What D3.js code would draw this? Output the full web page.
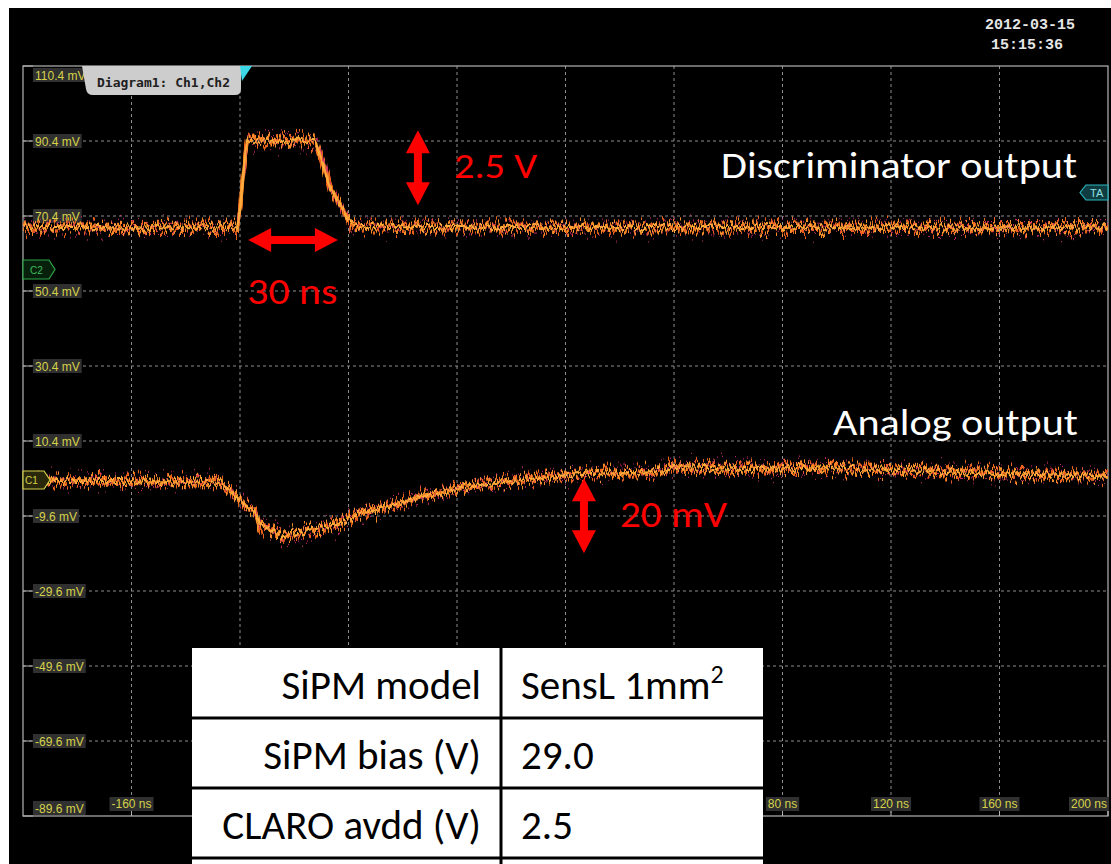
<!DOCTYPE html>
<html>
<head>
<meta charset="utf-8">
<script src="https://cdn.jsdelivr.net/npm/d3@7"></script>
<style>
  body { margin: 0; background: #fff; }
  svg { display: block; }
</style>
</head>
<body>
<svg width="1111" height="864"></svg>
<script>
// scope settings
let timeTicks = [-200, -160, -120, -80, -40, 0, 40, 80, 120, 160, 200];
// only these time labels are visible, the rest sit behind the table
let timeLabels = [-160, 80, 120, 160, 200];
let voltTicks = [110.4, 90.4, 70.4, 50.4, 30.4, 10.4, -9.6, -29.6, -49.6, -69.6, -89.6];

// Ch2 - discriminator output (ns, mV)
let discT = [-200, -180, -160, -140, -121, -120, -119, -118, -117.3, -115, -110, -105, -100, -95, -92, -90, -88, -86.8, -84, -82, -80, -78.5, -76, -60, -40, 0, 40, 80, 120, 160, 200];
let discV = [67.4, 67.5, 67.3, 67.4, 67.4, 72, 80, 87, 90.2, 90.6, 90.8, 90.7, 90.8, 90.6, 90.3, 86, 81, 78, 74.5, 72, 69.5, 68.2, 67.5, 67.4, 67.5, 67.4, 67.5, 67.4, 67.4, 67.3, 67.3];

// Ch1 - analog output (ns, mV)
let anaT = [-200, -170, -150, -134.7, -127.4, -123.7, -118.2, -114.5, -112.6, -108.9, -104.1, -97.9, -90.5, -83.1, -75.8, -68.4, -61, -53.6, -46.3, -38.9, -31.5, -16.8, 0, 12.7, 27.5, 37, 39, 68, 86.4, 123.3, 160.2, 200];
let anaV = [-0.3, -0.2, -0.5, -0.4, -0.8, -2.7, -6.7, -8.5, -12.0, -13.3, -14.7, -14.1, -12.8, -11.5, -8.8, -7.5, -6.1, -4.5, -3.5, -2.1, -1.3, 0.0, 1.3, 2.0, 2.2, 2.5, 3.5, 2.9, 3.2, 2.7, 1.6, 0.9];

// settings table
let tableNames = ["SiPM model", "SiPM bias (V)", "CLARO avdd (V)", ""];
let tableValues = ["SensL 1mm", "29.0", "2.5", ""];

var svg = d3.select("svg");

var x = d3.scaleLinear().domain([-200, 200]).range([23, 1108]);
var y = d3.scaleLinear().domain([-89.6, 110.4]).range([816, 66]);

// screen background
svg.append("rect").attr("width", 1111).attr("height", 864).attr("fill", "#fff");
svg.append("rect").attr("x", 9).attr("y", 8).attr("width", 1102).attr("height", 856).attr("fill", "#000");

// noise filters for the traces
var defs = svg.append("defs");
function noiseFilter(id, freq, seed, scale){
    var f = defs.append("filter").attr("id", id)
        .attr("filterUnits", "userSpaceOnUse")
        .attr("x", 0).attr("y", 0).attr("width", 1111).attr("height", 864);
    f.append("feTurbulence").attr("type", "fractalNoise")
        .attr("baseFrequency", freq).attr("numOctaves", 2).attr("seed", seed).attr("result", "turb");
    f.append("feColorMatrix").attr("in", "turb").attr("type", "matrix")
        .attr("values", "0 0 0 0 0.5  0 1 0 0 0  0 0 0 0 0  0 0 0 0 1").attr("result", "map");
    f.append("feDisplacementMap").attr("in", "SourceGraphic").attr("in2", "map")
        .attr("scale", scale).attr("xChannelSelector", "R").attr("yChannelSelector", "G");
}
noiseFilter("n1", "0.45 0.01", 2, 34);
noiseFilter("n2", "0.6 0.01", 9, 46);
noiseFilter("n3", "0.35 0.01", 17, 16);
noiseFilter("n4", "0.5 0.01", 5, 30);

// grid
var grid = svg.append("g").attr("class", "grid");
grid.selectAll(".vg")
    .data(timeTicks.slice(1, -1))
    .enter().append("line")
    .attr("x1", d => x(d)).attr("x2", d => x(d))
    .attr("y1", y.range()[1]).attr("y2", y.range()[0])
    .attr("stroke", "#8c8c8c").attr("stroke-dasharray", "3,3");
grid.selectAll(".hg")
    .data(voltTicks.slice(1, -1))
    .enter().append("line")
    .attr("x1", x.range()[0]).attr("x2", x.range()[1])
    .attr("y1", d => y(d)).attr("y2", d => y(d))
    .attr("stroke", "#8c8c8c").attr("stroke-dasharray", "3,3");

// frame
svg.append("rect")
    .attr("x", x.range()[0]).attr("y", y.range()[1])
    .attr("width", x.range()[1] - x.range()[0])
    .attr("height", y.range()[0] - y.range()[1])
    .attr("fill", "none").attr("stroke", "#b4b4b4").attr("stroke-width", 1.2);

// y tick labels
var yl = svg.append("g").attr("class", "ylabels")
    .attr("font-family", "'Liberation Sans', Arial, sans-serif").attr("font-size", 12);
voltTicks.forEach(function(v){
    var cy = Math.min(Math.max(y(v), y.range()[1] + 9), y.range()[0] - 8);
    yl.append("line").attr("x1", 23).attr("x2", 33).attr("y1", y(v)).attr("y2", y(v))
        .attr("stroke", "#b4b4b4");
    var box = yl.append("rect").attr("fill", "#303030");
    var t = yl.append("text").attr("x", 35).attr("y", cy + 4.5)
        .attr("fill", "#d6d24a").text(v.toFixed(1) + " mV");
    var w = t.node().getComputedTextLength();
    box.attr("x", 33).attr("y", cy - 7).attr("width", w + 4).attr("height", 14);
});

// x ticks and labels
var xl = svg.append("g").attr("class", "xlabels")
    .attr("font-family", "'Liberation Sans', Arial, sans-serif").attr("font-size", 12);
timeTicks.slice(1).forEach(function(t){
    xl.append("line").attr("x1", x(t)).attr("x2", x(t)).attr("y1", 811).attr("y2", 816)
        .attr("stroke", "#b4b4b4");
});
timeLabels.forEach(function(t){
    var box = xl.append("rect").attr("fill", "#303030");
    var lab = xl.append("text").attr("y", 808).attr("fill", "#d6d24a").text(t + " ns");
    var w = lab.node().getComputedTextLength();
    var left = Math.min(x(t) - w / 2, x.range()[1] - w - 1);
    lab.attr("x", left);
    box.attr("x", left - 2).attr("y", 797).attr("width", w + 4).attr("height", 14);
});

// traces
var line = d3.line().x(d => x(d[0])).y(d => y(d[1]));
var disc = d3.zip(discT, discV);
var ana = d3.zip(anaT, anaV);

function drawTrace(pts, cls){
    var g = svg.append("g").attr("class", cls).attr("fill", "none");
    g.append("path").attr("d", line(pts))
        .attr("stroke", "#ea621a").attr("stroke-width", 3.5).attr("filter", "url(#n1)");
    g.append("path").attr("d", line(pts))
        .attr("stroke", "#f68c2a").attr("stroke-width", 3.5).attr("filter", "url(#n4)");
    g.append("path").attr("d", line(pts))
        .attr("stroke", "#d83070").attr("stroke-width", 1.2).attr("opacity", 0.85).attr("filter", "url(#n2)");
    g.append("path").attr("d", line(pts))
        .attr("stroke", "#ffac3c").attr("stroke-width", 2.2).attr("filter", "url(#n3)");
}
drawTrace(disc, "ch2");
drawTrace(ana, "ch1");

// channel markers
svg.append("path").attr("d", "M23,260 L49,260 L55,269.5 L49,279 L23,279 Z")
    .attr("fill", "#06200c").attr("stroke", "#2fa84a").attr("stroke-width", 1.2);
svg.append("text").attr("x", 30).attr("y", 274).attr("fill", "#3cbc5c")
    .attr("font-family", "'Liberation Sans', Arial, sans-serif").attr("font-size", 10).text("C2");
svg.append("path").attr("d", "M23,471 L44,471 L50,480 L44,489 L23,489 Z")
    .attr("fill", "#2a280a").attr("stroke", "#d6d24a").attr("stroke-width", 1.2);
svg.append("text").attr("x", 25).attr("y", 484).attr("fill", "#d6d24a")
    .attr("font-family", "'Liberation Sans', Arial, sans-serif").attr("font-size", 10).text("C1");
svg.append("path").attr("d", "M1080,192.5 L1086,185 L1108,185 L1108,200 L1086,200 Z")
    .attr("fill", "#0e3c40").attr("stroke", "#2ab8c0").attr("stroke-width", 1.2);
svg.append("text").attr("x", 1090).attr("y", 197).attr("fill", "#8ee0e6")
    .attr("font-family", "'Liberation Sans', Arial, sans-serif").attr("font-size", 11).text("TA");

// diagram tab and trigger marker
svg.append("path")
    .attr("d", "M82,66 L241,66 L241,89 Q241,95 235,95 L93,95 Q87,95 86,89 Z")
    .attr("fill", "#cdcdcd");
svg.append("text").attr("x", 97).attr("y", 87)
    .attr("font-family", "'DejaVu Sans Mono', monospace").attr("font-weight", "bold")
    .attr("font-size", 12).attr("fill", "#202020")
    .attr("textLength", 133).attr("lengthAdjust", "spacingAndGlyphs")
    .text("Diagram1: Ch1,Ch2");
svg.append("path").attr("d", "M240,66 L252,66 L242,81 Z").attr("fill", "#3cd8e8");

// time stamp
var ts = svg.append("g").attr("font-family", "'Liberation Mono', 'Courier New', monospace")
    .attr("font-weight", "bold").attr("font-size", 15).attr("fill", "#e6e6e6")
    .attr("text-anchor", "end");
ts.append("text").attr("x", 1075).attr("y", 29).text("2012-03-15");
ts.append("text").attr("x", 1063).attr("y", 49).text("15:15:36");

// red annotations
function dblArrow(x1, y1, x2, y2){
    var len = Math.hypot(x2 - x1, y2 - y1), hl = 23, hw = 12, sw = 4;
    var ang = Math.atan2(y2 - y1, x2 - x1) * 180 / Math.PI;
    var d = "M0,0 L" + hl + "," + (-hw) + " L" + hl + "," + (-sw) + " L" + (len - hl) + "," + (-sw) +
            " L" + (len - hl) + "," + (-hw) + " L" + len + ",0 L" + (len - hl) + "," + hw +
            " L" + (len - hl) + "," + sw + " L" + hl + "," + sw + " L" + hl + "," + hw + " Z";
    svg.append("path").attr("d", d).attr("fill", "#ff0000")
        .attr("transform", "translate(" + x1 + "," + y1 + ") rotate(" + ang + ")");
}
dblArrow(x(-117), y(64), x(-83.9), y(64));
dblArrow(x(-54.4), y(93.3), x(-54.4), y(73.3));
dblArrow(x(6.8), y(0.5), x(6.8), y(-19.5));

var notes = svg.append("g").attr("font-family", "Carlito, Calibri, Lato, sans-serif");
notes.append("text").attr("x", x(-117.3)).attr("y", y(46.9)).attr("font-size", 37)
    .attr("fill", "#ff0000").attr("textLength", 90).attr("lengthAdjust", "spacingAndGlyphs").text("30 ns");
notes.append("text").attr("x", x(-41.1)).attr("y", y(80.5)).attr("font-size", 35)
    .attr("fill", "#ff0000").attr("textLength", 83).attr("lengthAdjust", "spacingAndGlyphs").text("2.5 V");
notes.append("text").attr("x", x(20.1)).attr("y", y(-12.5)).attr("font-size", 37)
    .attr("fill", "#ff0000").attr("textLength", 107).attr("lengthAdjust", "spacingAndGlyphs").text("20 mV");
notes.append("text").attr("x", 721).attr("y", 178).attr("font-size", 36)
    .attr("fill", "#ffffff").attr("textLength", 356).attr("lengthAdjust", "spacingAndGlyphs").text("Discriminator output");
notes.append("text").attr("x", 833).attr("y", 435).attr("font-size", 36)
    .attr("fill", "#ffffff").attr("textLength", 245).attr("lengthAdjust", "spacingAndGlyphs").text("Analog output");

// settings table
var colX = [192, 501, 763], rowH = 70, tableTop = 648;
var tbl = svg.append("g").attr("class", "table")
    .attr("font-family", "Carlito, Calibri, Lato, sans-serif").attr("font-size", 41).attr("fill", "#000");
tbl.append("rect").attr("x", colX[0]).attr("y", tableTop).attr("width", colX[2] - colX[0])
    .attr("height", rowH * tableNames.length).attr("fill", "#fff");
tableNames.forEach(function(name, i){
    var ry = tableTop + i * rowH;
    if (i > 0) tbl.append("line").attr("x1", colX[0]).attr("x2", colX[2]).attr("y1", ry).attr("y2", ry)
        .attr("stroke", "#000").attr("stroke-width", 3);
    tbl.append("text").attr("x", 481).attr("y", ry + 51).attr("text-anchor", "end").text(name);
    var v = tbl.append("text").attr("x", 521).attr("y", ry + 51).text(tableValues[i]);
    if (i === 0) v.append("tspan").attr("dy", -16).attr("font-size", 26).text("2");
});
tbl.append("line").attr("x1", colX[1]).attr("x2", colX[1]).attr("y1", tableTop).attr("y2", 864)
    .attr("stroke", "#000").attr("stroke-width", 3);
</script>
</body>
</html>
